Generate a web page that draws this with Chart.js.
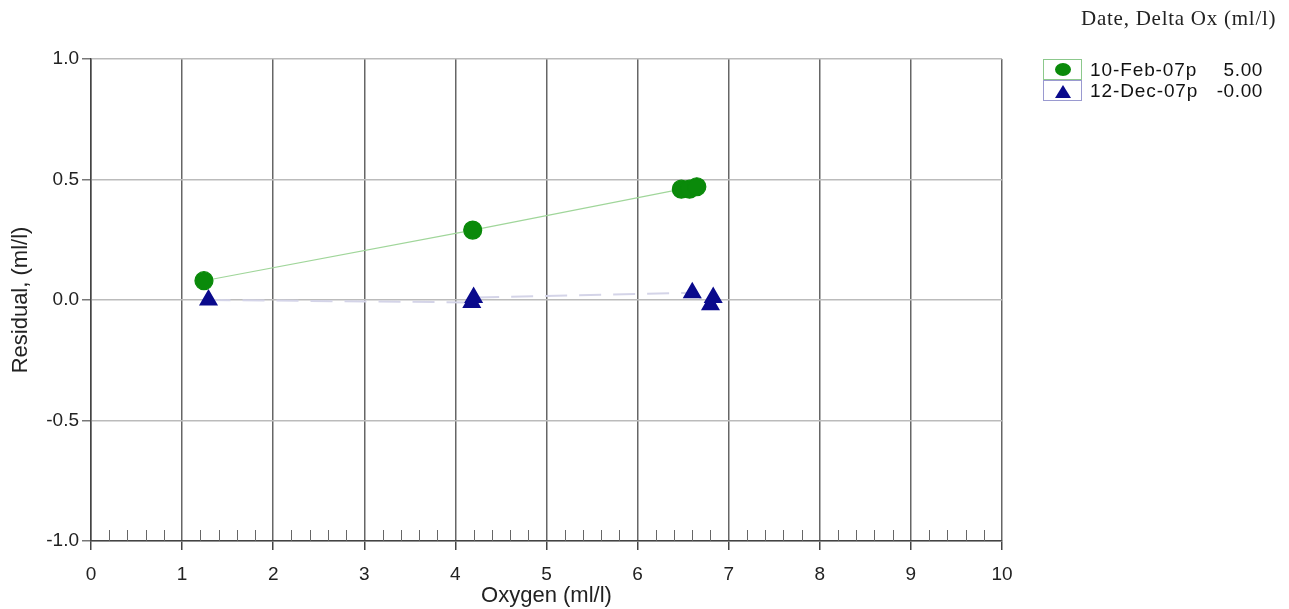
<!DOCTYPE html>
<html lang="en">
<head>
    <title>Oxygen Residuals</title>
    <script src="https://cdn.jsdelivr.net/npm/chart.js"></script>
    <style>
        body { margin: 0; background: #fff; font-family: "Liberation Sans", Arial, sans-serif; }
        #wrap { position: relative; width: 1289px; height: 609px; }
        #hdr { position: absolute; left: 1081px; top: 6px; font-family: "Liberation Serif", "Times New Roman", serif; font-size: 21px; color: #222; white-space: nowrap; letter-spacing: 0.75px; }
        .leg { position: absolute; left: 1043px; font-size: 19px; color: #111; height: 21px; }
        .leg .box { position: absolute; left: 0; top: 0; width: 39px; height: 21px; border: 1px solid; box-sizing: border-box; }
        .leg .lbl { position: absolute; left: 47px; top: 0; white-space: nowrap; line-height: 21px; letter-spacing: 0.9px; }
        .leg .val { position: absolute; left: 160px; width: 60px; text-align: right; top: 0; line-height: 21px; letter-spacing: 0.6px; }
        .dot { position: absolute; left: 11px; top: 3px; width: 16px; height: 13px; border-radius: 50%; background: #0a8a0a; }
        .tri { position: absolute; left: 11px; top: 4px; width: 0; height: 0; border-left: 8px solid transparent; border-right: 8px solid transparent; border-bottom: 13px solid #0a0a8c; }
    </style>
</head>
<body>
<div id="wrap">
    <canvas id="residChart" width="1289" height="609"></canvas>
    <div id="hdr">Date, Delta Ox (ml/l)</div>
    <div class="leg" style="top:59px">
        <div class="box" style="border-color:#8cc88c"><div class="dot"></div></div>
        <div class="lbl">10-Feb-07p</div><div class="val">5.00</div>
    </div>
    <div class="leg" style="top:80px">
        <div class="box" style="border-color:#9a9ad0"><div class="tri"></div></div>
        <div class="lbl">12-Dec-07p</div><div class="val">-0.00</div>
    </div>
</div>
<script>
    // 10-Feb-07p cast
    const febOxygen = [1.24, 4.19, 6.48, 6.57, 6.65];
    const febResidual = [0.08, 0.29, 0.46, 0.46, 0.47];
    // 12-Dec-07p cast
    const decOxygen = [1.29, 4.18, 4.2, 6.6, 6.8, 6.83];
    const decResidual = [0.0, -0.01, 0.01, 0.03, -0.02, 0.01];

    const xTicks = [0, 1, 2, 3, 4, 5, 6, 7, 8, 9, 10];
    const yTicks = [-1.0, -0.5, 0.0, 0.5, 1.0];

    const toPoints = (xs, ys) => xs.map((x, i) => ({x: x, y: ys[i]}));

    // small upward ticks every 0.2 along the x axis
    const minorTicks = {
        id: 'minorTicks',
        afterDatasetsDraw(chart) {
            const ctx = chart.ctx;
            const xs = chart.scales.x;
            const base = chart.chartArea.bottom;
            ctx.save();
            ctx.strokeStyle = '#666';
            ctx.lineWidth = 1;
            for (let v = 0; v <= 10.001; v += 0.2) {
                if (Math.abs(v - Math.round(v)) < 0.01) continue;
                const px = Math.round(xs.getPixelForValue(v)) + 0.5;
                ctx.beginPath();
                ctx.moveTo(px, base);
                ctx.lineTo(px, base - 11);
                ctx.stroke();
            }
            ctx.restore();
        }
    };

    const tickFont = { size: 19, family: 'Liberation Sans' };
    const titleFont = { size: 22, family: 'Liberation Sans' };

    new Chart(document.getElementById('residChart'), {
        type: 'scatter',
        data: {
            datasets: [{
                label: '10-Feb-07p',
                data: toPoints(febOxygen, febResidual),
                showLine: true,
                borderColor: '#a0d69a',
                borderWidth: 1.2,
                backgroundColor: '#0a8a0a',
                pointBorderColor: '#0a8a0a',
                pointStyle: 'circle',
                pointRadius: 9
            }, {
                label: '12-Dec-07p',
                data: toPoints(decOxygen, decResidual),
                showLine: true,
                borderColor: '#d4d4e8',
                borderWidth: 2,
                borderDash: [22, 12],
                backgroundColor: '#0a0a8c',
                pointBorderColor: '#0a0a8c',
                pointStyle: 'triangle',
                pointRadius: 9
            }]
        },
        options: {
            responsive: false,
            animation: false,
            layout: { padding: { top: 59, right: 287, left: 0, bottom: 0 } },
            plugins: { legend: { display: false }, tooltip: { enabled: false } },
            scales: {
                x: {
                    type: 'linear', min: 0, max: 10,
                    afterBuildTicks: s => { s.ticks = xTicks.map(v => ({value: v})); },
                    afterFit: s => { s.height = 68; },
                    ticks: { color: '#222', font: tickFont, padding: 13, maxRotation: 0 },
                    grid: { color: '#666', lineWidth: 1.5, tickLength: 9, tickColor: '#444' },
                    border: { color: '#444', width: 1.5 },
                    title: { display: true, text: 'Oxygen (ml/l)', color: '#222', font: titleFont, padding: { top: 0, bottom: 0 } }
                },
                y: {
                    type: 'linear', min: -1, max: 1,
                    afterBuildTicks: s => { s.ticks = yTicks.map(v => ({value: v})); },
                    afterFit: s => { s.width = 91; },
                    ticks: { color: '#222', font: tickFont, padding: 3, callback: v => v.toFixed(1) },
                    grid: { color: '#bbb', lineWidth: 1.5, tickLength: 9, tickColor: '#777' },
                    border: { color: '#444', width: 1.5 },
                    title: { display: true, text: 'Residual, (ml/l)', color: '#222', font: titleFont, padding: { top: 8, bottom: 0 } }
                }
            }
        },
        plugins: [minorTicks]
    });
</script>
</body>
</html>
